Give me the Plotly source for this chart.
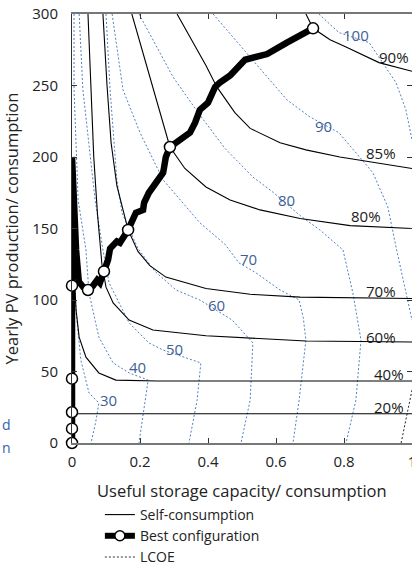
import plotly.graph_objects as go

# ---------------- data ----------------
# Self-consumption contour lines (x: storage/consumption, y: PV/consumption)
sc90_x = [0.688, 0.709, 0.759, 0.806, 0.903, 1.0]
sc90_y = [300, 290, 282, 277, 266, 260]
sc85_x = [0.309, 0.362, 0.394, 0.426, 0.479, 0.524, 0.612, 0.688, 0.788, 1.0]
sc85_y = [300, 278, 264, 249, 231, 220, 210, 205, 200, 192]
sc80_x = [0.176, 0.215, 0.253, 0.288, 0.332, 0.394, 0.465, 0.553, 0.671, 0.818, 1.0]
sc80_y = [300, 268, 236, 207, 192, 179, 170, 163, 157, 152, 150]
sc70_x = [0.091, 0.103, 0.115, 0.132, 0.165, 0.194, 0.229, 0.276, 0.394, 0.524, 0.671, 1.0]
sc70_y = [300, 250, 210, 180, 149, 134, 124, 116, 108, 104, 102, 101]
sc60_x = [0.047, 0.056, 0.064, 0.075, 0.088, 0.100, 0.121, 0.168, 0.238, 0.394, 0.688, 1.0]
sc60_y = [300, 250, 200, 160, 125, 109, 98, 86, 79, 75, 71.3, 70.6]
sc40_x = [0.002, 0.004, 0.012, 0.021, 0.041, 0.079, 0.129, 0.25, 1.0]
sc40_y = [180, 130, 93, 74, 60, 49, 44, 43.4, 43.4]
sc20_x = [0.0, 1.0]
sc20_y = [20.5, 20.5]

sc_lines = [(sc90_x, sc90_y), (sc85_x, sc85_y), (sc80_x, sc80_y), (sc70_x, sc70_y),
            (sc60_x, sc60_y), (sc40_x, sc40_y), (sc20_x, sc20_y)]
sc_labels = ["90%", "85%", "80%", "70%", "60%", "40%", "20%"]
sc_label_x = [0.947, 0.909, 0.865, 0.909, 0.909, 0.932, 0.932]
sc_label_y = [270, 203, 159, 106, 74, 48, 25]

# LCOE contour lines
lcoe30_x = [0.001, 0.004, 0.012, 0.026, 0.050, 0.079, 0.070, 0.056]
lcoe30_y = [200, 128, 92, 58, 35, 28, 15, 0]
lcoe40_x = [0.006, 0.006, 0.018, 0.041, 0.050, 0.079, 0.121, 0.168, 0.224, 0.215, 0.197]
lcoe40_y = [300, 247, 170, 135, 105, 74, 56, 49, 44, 30, 0]
lcoe50_x = [0.021, 0.032, 0.068, 0.091, 0.109, 0.168, 0.226, 0.268, 0.379, 0.368, 0.344]
lcoe50_y = [300, 247, 170, 135, 112, 84, 70, 65, 56, 30, 0]
lcoe60_x = [0.100, 0.112, 0.132, 0.147, 0.194, 0.244, 0.306, 0.376, 0.471, 0.521, 0.532, 0.524, 0.497]
lcoe60_y = [300, 247, 184, 161, 136, 120, 107, 100, 86, 73, 70, 30, 0]
lcoe70_x = [0.118, 0.150, 0.200, 0.229, 0.268, 0.376, 0.450, 0.491, 0.541, 0.612, 0.668, 0.680, 0.688, 0.668, 0.650]
lcoe70_y = [300, 247, 217, 203, 184, 154, 139, 126, 119, 107, 100, 88, 72, 30, 0]
lcoe80_x = [0.197, 0.297, 0.371, 0.450, 0.532, 0.588, 0.671, 0.729, 0.797, 0.826, 0.850, 0.835, 0.806]
lcoe80_y = [300, 256, 231, 206, 186, 176, 159, 149, 135, 105, 72, 30, 0]
lcoe90_x = [0.415, 0.524, 0.632, 0.700, 0.785, 0.885, 0.929, 0.953, 0.982, 1.0]
lcoe90_y = [300, 270, 240, 228, 217, 189, 165, 137, 105, 86]
lcoe100_x = [0.726, 0.785, 0.874, 0.953, 0.982, 1.0]
lcoe100_y = [300, 287, 280, 252, 233, 212]
lcoe110_x = [1.0, 0.968]
lcoe110_y = [37, 0]

lcoe_lines = [(lcoe30_x, lcoe30_y), (lcoe40_x, lcoe40_y), (lcoe50_x, lcoe50_y),
              (lcoe60_x, lcoe60_y), (lcoe70_x, lcoe70_y), (lcoe80_x, lcoe80_y),
              (lcoe90_x, lcoe90_y), (lcoe100_x, lcoe100_y)]
lcoe_labels = ["30", "40", "50", "60", "70", "80", "90", "100"]
lcoe_label_x = [0.106, 0.194, 0.300, 0.424, 0.518, 0.632, 0.741, 0.835]
lcoe_label_y = [30, 53, 66, 96.5, 129, 170, 222, 285]

# Best configuration path
best_x = [0, 0, 0, 0, 0, 0, 0.012, 0.020, 0.033, 0.047, 0.062, 0.074, 0.082, 0.088, 0.094,
          0.106, 0.112, 0.132, 0.141, 0.156, 0.165, 0.188, 0.209, 0.212, 0.226, 0.247, 0.268,
          0.271, 0.276, 0.288, 0.347, 0.362, 0.376, 0.400, 0.421, 0.435, 0.465, 0.509, 0.574,
          0.632, 0.691, 0.709]
best_y = [0, 10, 21.5, 45, 110, 200, 135, 113, 109, 107, 110, 114, 112, 116, 120,
          128, 136, 141, 140, 145, 149, 161, 163, 168, 175, 182, 189,
          193, 200, 207, 217, 224, 233, 238, 249, 252, 257, 268, 272,
          280, 287, 290]
mark_x = [0, 0, 0, 0, 0, 0.047, 0.094, 0.165, 0.288, 0.709]
mark_y = [0, 10, 21.5, 45, 110, 107, 120, 149, 207, 290]

x_ticks = [0, 0.2, 0.4, 0.6, 0.8, 1.0]
x_ticklabels = ["0", "0.2", "0.4", "0.6", "0.8", "1"]
y_ticks = [0, 50, 100, 150, 200, 250, 300]

# ---------------- figure ----------------
FONT = "Open Sans"
BLUE_LINE = "#4f81c4"
BLUE_TEXT = "#3d5f96"
TXT = "#222222"

fig = go.Figure()

for i, (xs, ys) in enumerate(lcoe_lines):
    fig.add_trace(go.Scatter(x=xs, y=ys, mode="lines",
                             line=dict(color=BLUE_LINE, width=1, dash="2px,2px"),
                             showlegend=False, hoverinfo="skip"))
fig.add_trace(go.Scatter(x=lcoe110_x, y=lcoe110_y, mode="lines",
                         line=dict(color="#222222", width=1, dash="2px,2px"),
                         showlegend=False, hoverinfo="skip"))

for i, (xs, ys) in enumerate(sc_lines):
    fig.add_trace(go.Scatter(x=xs, y=ys, mode="lines",
                             line=dict(color="black", width=1.1),
                             name="Self-consumption", legendgroup="sc",
                             showlegend=(i == 0), hoverinfo="skip"))

fig.add_trace(go.Scatter(x=best_x, y=best_y, mode="lines",
                         line=dict(color="black", width=6.5),
                         showlegend=False, hoverinfo="skip"))
fig.add_trace(go.Scatter(x=mark_x, y=mark_y, mode="markers",
                         marker=dict(symbol="circle", size=11, color="white",
                                     line=dict(color="black", width=1.5)),
                         showlegend=False, hoverinfo="skip", cliponaxis=False))
fig.add_trace(go.Scatter(x=[None], y=[None], mode="lines+markers",
                         line=dict(color="black", width=6),
                         marker=dict(symbol="circle", size=10, color="white",
                                     line=dict(color="black", width=1.5)),
                         name="Best configuration"))
fig.add_trace(go.Scatter(x=[None], y=[None], mode="lines",
                         line=dict(color="#333333", width=1, dash="2px,2px"),
                         name="LCOE"))

annotations = []
for t, ax, ay in zip(sc_labels, sc_label_x, sc_label_y):
    annotations.append(dict(x=ax, y=ay, xref="x", yref="y", text=t, showarrow=False,
                            font=dict(family=FONT, size=15, color="#1a1a1a")))
for t, ax, ay in zip(lcoe_labels, lcoe_label_x, lcoe_label_y):
    annotations.append(dict(x=ax, y=ay, xref="x", yref="y", text=t, showarrow=False,
                            font=dict(family=FONT, size=15, color=BLUE_TEXT)))
# axis titles
annotations.append(dict(x=0.5, y=-0.1096, xref="paper", yref="paper",
                        text="Useful storage capacity/ consumption", showarrow=False,
                        xanchor="center", yanchor="middle",
                        font=dict(family=FONT, size=16.5, color=TXT)))
annotations.append(dict(x=-0.1765, y=0.5, xref="paper", yref="paper",
                        text="Yearly PV production/ consumption", showarrow=False,
                        textangle=-90, xanchor="center", yanchor="middle",
                        font=dict(family=FONT, size=16.5, color=TXT)))
# partly visible text at the left edge
annotations.append(dict(x=-0.2118, y=0.0163, xref="paper", yref="paper", text="d",
                        xanchor="left", showarrow=False,
                        font=dict(family=FONT, size=14, color="#2f64a8")))
annotations.append(dict(x=-0.2118, y=-0.0373, xref="paper", yref="paper", text="n",
                        xanchor="left", showarrow=False,
                        font=dict(family=FONT, size=14, color="#2f64a8")))

fig.update_layout(
    width=412, height=566,
    margin=dict(l=72, r=0, t=14, b=123, autoexpand=False),
    paper_bgcolor="white", plot_bgcolor="white",
    font=dict(family=FONT, size=15, color=TXT),
    showlegend=True,
    legend=dict(x=0.082, y=-0.1305, xanchor="left", yanchor="top",
                font=dict(family=FONT, size=14, color=TXT),
                bgcolor="rgba(0,0,0,0)", tracegroupgap=0, itemwidth=30),
    annotations=annotations,
    xaxis=dict(range=[0, 1.0], tickvals=x_ticks, ticktext=x_ticklabels,
               ticks="inside", ticklen=5, tickcolor="#333333",
               showline=True, linecolor="#777777", linewidth=1.5, mirror="ticks",
               showgrid=False, zeroline=False, automargin=False,
               ticklabelstandoff=4, ticklabeloverflow="allow",
               tickfont=dict(family=FONT, size=15, color=TXT)),
    yaxis=dict(range=[0, 300], tickvals=y_ticks,
               ticks="inside", ticklen=5, tickcolor="#333333",
               showline=True, linecolor="#333333", linewidth=1, mirror="ticks",
               showgrid=False, zeroline=False, automargin=False,
               ticklabelstandoff=10,
               tickfont=dict(family=FONT, size=15, color=TXT)),
)

fig.write_html("out.html", config={"displayModeBar": False},
               post_script="document.body.style.margin='0';document.body.style.padding='0';")
